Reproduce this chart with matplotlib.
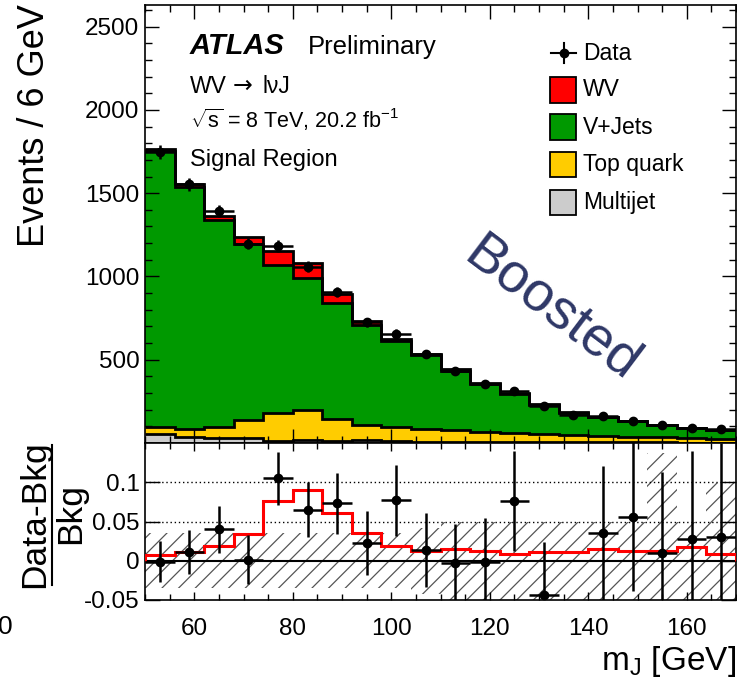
import numpy as np
import matplotlib
matplotlib.use("Agg")
import matplotlib.pyplot as plt
from matplotlib.ticker import MultipleLocator, FixedLocator
from matplotlib.patches import Rectangle
from matplotlib.lines import Line2D

plt.rcParams['font.family'] = ['Liberation Sans', 'DejaVu Sans']
plt.rcParams['mathtext.fontset'] = 'custom'
plt.rcParams['mathtext.rm'] = 'Liberation Sans'
plt.rcParams['mathtext.it'] = 'Liberation Sans:italic'
plt.rcParams['mathtext.bf'] = 'Liberation Sans:bold'
plt.rcParams['hatch.linewidth'] = 0.9

# bin edges of the large-R jet mass, 6 GeV bins
edges = [50, 56, 62, 68, 74, 80, 86, 92, 98, 104, 110,
         116, 122, 128, 134, 140, 146, 152, 158, 164, 170]

# stacked contributions (events / bin)
multijet = [52, 38, 33, 33, 15, 16, 14, 16, 13, 8, 8, 7, 6, 6, 5, 5, 4, 4, 3, 3]
top = [42, 44, 65, 106, 164, 183, 129, 92, 85, 74, 70, 61, 56, 48, 43, 39, 34, 30, 25, 19]
vjets = [1657, 1454, 1241, 1056, 892, 794, 700, 601, 512, 447,
         357, 288, 235, 177, 134, 112, 92, 75, 62, 58]
wv = [12, 17, 25, 41, 81, 89, 51, 25, 12, 6, 7, 4.5, 2.5, 2.4, 2, 2, 1.5, 1.3, 1.5, 0.7]

data = [1749, 1554, 1393, 1197, 1183, 1058, 905, 725, 657, 536,
        434, 355, 315, 221, 169, 161, 135, 110, 92, 82]
data_err = [42, 39, 37, 35, 34, 33, 30, 27, 26, 23, 21, 19, 18, 15, 13, 13, 12, 10, 10, 9]

# ratio panel: (Data-Bkg)/Bkg, bin 15 is below the range
ratio = [-0.001, 0.0115, 0.040, 0.0013, 0.105, 0.065, 0.073, 0.0225, 0.077, 0.014,
         -0.003, -0.0017, 0.076, -0.043, np.nan, 0.035, 0.056, 0.0098, 0.028, 0.030]
ratio_err = [0.0265, 0.028, 0.030, 0.031, 0.034, 0.035, 0.039, 0.041, 0.045, 0.047,
             0.050, 0.056, 0.064, 0.067, np.nan, 0.086, 0.095, 0.103, 0.112, 0.12]
wv_frac = [0.0068, 0.011, 0.019, 0.034, 0.0755, 0.090, 0.061, 0.035, 0.019, 0.0125,
           0.0148, 0.013, 0.0085, 0.0106, 0.0106, 0.0145, 0.0127, 0.012, 0.017, 0.0085]
syst = [0.035, 0.035, 0.035, 0.035, 0.035, 0.035, 0.035, 0.035, 0.035, 0.042,
        0.05, 0.05, 0.05, 0.05, 0.05, 0.05, 0.05, 0.137, 0.05, 0.099]

W, H = 737, 678
def fx(px):
    return px / W
def fy(py):
    return 1 - py / H

edges = np.array(edges, dtype=float)
centers = 0.5 * (edges[:-1] + edges[1:])
half = 0.5 * np.diff(edges)

fig = plt.figure(figsize=(W / 100, H / 100), dpi=100)
ax1 = fig.add_axes([fx(145), fy(443), fx(736) - fx(145), fy(5) - fy(443)])
ax2 = fig.add_axes([fx(145), fy(600), fx(736) - fx(145), fy(443) - fy(600)])

# stack
lvl0 = np.zeros(len(data))
lvl1 = lvl0 + np.array(multijet)
lvl2 = lvl1 + np.array(top)
lvl3 = lvl2 + np.array(vjets)
lvl4 = lvl3 + np.array(wv)
layers = [(lvl0, lvl1, '#cccccc'), (lvl1, lvl2, '#ffcc00'),
          (lvl2, lvl3, '#009900'), (lvl3, lvl4, '#ff0000')]
for lo, hi, c in layers:
    ax1.stairs(hi, edges, baseline=lo, fill=True, color=c, lw=0, zorder=1)
for lo, hi, c in layers:
    ax1.stairs(hi, edges, baseline=None, color='black', lw=2, zorder=2)

ax1.errorbar(centers, data, xerr=half, yerr=data_err, fmt='o', color='black',
             ms=6, elinewidth=1.8, capsize=0, zorder=5)

ax1.set_xlim(50, 170)
ax1.set_ylim(0, 2630)
ax1.xaxis.set_major_locator(MultipleLocator(20))
ax1.xaxis.set_minor_locator(MultipleLocator(5))
ax1.yaxis.set_major_locator(FixedLocator([500, 1000, 1500, 2000, 2500]))
ax1.yaxis.set_minor_locator(MultipleLocator(100))
ax1.tick_params(which='both', direction='in', top=True, right=True,
                labelbottom=False, labelsize=17.5, width=1, pad=4)
ax1.tick_params(which='major', length=10)
ax1.tick_params(which='minor', length=5)
for s in ax1.spines.values():
    s.set_linewidth(1.2)

# ratio panel
ax2.stairs(np.array(syst), edges, baseline=-np.array(syst), fill=True,
           facecolor='none', edgecolor='#555555', lw=0, hatch='//', zorder=1)
ax2.axhline(0.1, color='black', ls=(0, (1, 2)), lw=1, zorder=2)
ax2.axhline(0.05, color='black', ls=(0, (1, 2)), lw=1, zorder=2)
ax2.axhline(0.0, color='black', lw=1.5, zorder=2)
ax2.stairs(wv_frac, edges, color='red', lw=2.2, zorder=3)
ax2.errorbar(centers, ratio, xerr=half, yerr=ratio_err, fmt='o', color='black',
             ms=6, elinewidth=1.8, capsize=0, zorder=5)
ax2.set_xlim(50, 170)
ax2.set_ylim(-0.05, 0.15)
ax2.xaxis.set_major_locator(MultipleLocator(20))
ax2.xaxis.set_minor_locator(MultipleLocator(5))
ax2.set_yticks([-0.05, 0, 0.05, 0.1])
ax2.set_yticklabels(['-0.05', '0', '0.05', '0.1'])
ax2.tick_params(which='both', direction='in', top=True, right=True,
                labelsize=17.5, width=1)
ax2.tick_params(axis='y', which='major', length=11, pad=4)
ax2.tick_params(axis='x', which='major', length=6, pad=13)
ax2.tick_params(axis='x', which='minor', length=4)
for s in ax2.spines.values():
    s.set_linewidth(1.2)

# axis titles
fig.text(fx(44), fy(4), 'Events / 6 GeV', rotation=90, rotation_mode='anchor',
         ha='right', va='baseline', fontsize=26)
fig.text(fx(736), fy(670), r'm$_{\mathrm{J}}$ [GeV]', ha='right', va='baseline', fontsize=24)
fig.text(fx(44), fy(514), 'Data-Bkg', rotation=90, rotation_mode='anchor',
         ha='center', va='baseline', fontsize=25.5)
fig.text(fx(80), fy(514), 'Bkg', rotation=90, rotation_mode='anchor',
         ha='center', va='baseline', fontsize=25.5)
fig.add_artist(Line2D([fx(52), fx(52)], [fy(445), fy(585)], color='black', lw=1.5))
fig.text(fx(-2), fy(634), '0', ha='left', va='baseline', fontsize=19)

# labels
fig.text(fx(190), fy(54), 'ATLAS', fontsize=21, fontweight='bold', style='italic', va='baseline')
fig.text(fx(308), fy(54), 'Preliminary', fontsize=18.5, va='baseline')
fig.text(fx(190), fy(93), 'WV', fontsize=16.5, va='baseline')
fig.text(fx(233), fy(93), '\u2192', fontsize=17, va='baseline', family='DejaVu Sans')
fig.text(fx(263), fy(93), 'l\u03bdJ', fontsize=16.5, va='baseline')
fig.text(fx(190), fy(128), r'$\sqrt{\mathrm{s}}$ = 8 TeV, 20.2 fb$^{-1}$', fontsize=15.5, va='baseline')
fig.text(fx(190), fy(166), 'Signal Region', fontsize=17, va='baseline')

fig.text(fx(552), fy(310), 'Boosted', rotation=-37, rotation_mode='anchor',
         ha='center', va='center', fontsize=40, color='#2e3766')

# legend
rows = [53, 90, 127, 164, 202]
fig.add_artist(Line2D([fx(551), fx(576)], [fy(rows[0]), fy(rows[0])], color='black', lw=1.5))
fig.add_artist(Line2D([fx(563.5), fx(563.5)], [fy(43), fy(63)], color='black', lw=1.5))
fig.add_artist(Line2D([fx(563.5)], [fy(rows[0])], marker='o', ms=6, color='black'))
fig.text(fx(583), fy(rows[0]), 'Data', fontsize=16.5, va='center')
leg_items = [('WV', '#ff0000'), ('V+Jets', '#009900'), ('Top quark', '#ffcc00'), ('Multijet', '#cccccc')]
for r, (lab, c) in zip(rows[1:], leg_items):
    fig.add_artist(Rectangle((fx(550), fy(r + 12.5)), 26 / W, 25 / H, facecolor=c,
                             edgecolor='black', lw=1.3, transform=fig.transFigure))
    fig.text(fx(583), fy(r), lab, fontsize=16.5, va='center')

fig.savefig('out.png', dpi=100)
